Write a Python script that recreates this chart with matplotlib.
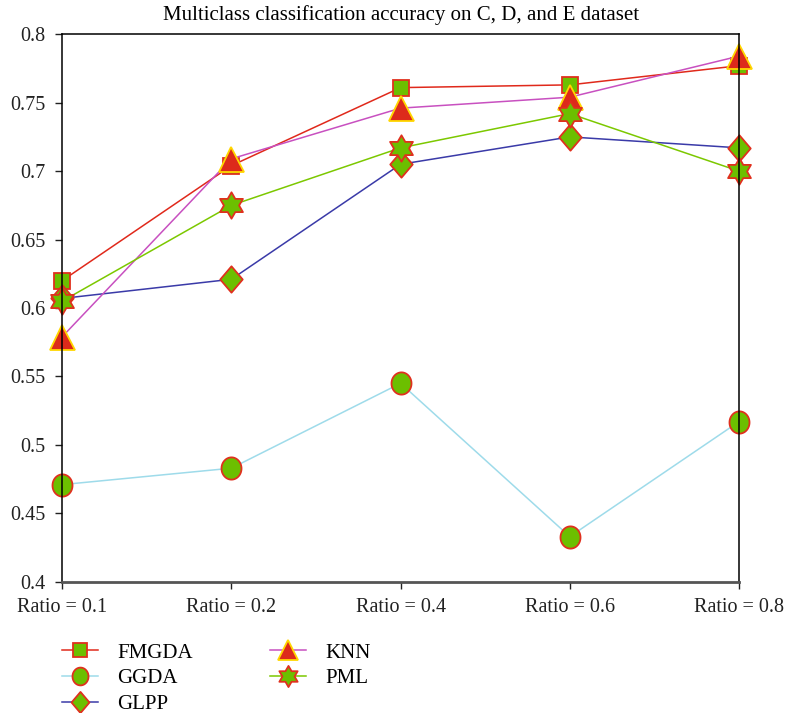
import matplotlib.pyplot as plt
import numpy as np
from matplotlib.path import Path

categories = ["Ratio = 0.1", "Ratio = 0.2", "Ratio = 0.4", "Ratio = 0.6", "Ratio = 0.8"]
fmgda = [0.620, 0.704, 0.761, 0.763, 0.777]
ggda = [0.471, 0.483, 0.545, 0.433, 0.517]
glpp = [0.607, 0.621, 0.705, 0.725, 0.717]
knn = [0.579, 0.709, 0.746, 0.754, 0.784]
pml = [0.605, 0.675, 0.717, 0.742, 0.700]

plt.rcParams['font.family'] = ['Liberation Serif', 'DejaVu Serif']

green = '#6cbf00'
red = '#e0301e'

# custom marker shapes
t = np.linspace(0, 2 * np.pi, 60)
ellipse = Path(np.column_stack([0.9 * np.cos(t), np.sin(t)]), closed=True)
diamond = Path([(0, 1), (0.85, 0), (0, -1), (-0.85, 0), (0, 1)], closed=True)
ang = np.deg2rad(90 + 30 * np.arange(13))
rad = np.where(np.arange(13) % 2 == 0, 1.0, 1 / np.sqrt(3))
hexagram = Path(np.column_stack([rad * np.cos(ang), rad * np.sin(ang)]), closed=True)

fig = plt.figure(figsize=(7.87, 7.13), dpi=100)
ax = fig.add_axes([0.079, 0.184, 0.86, 0.768])
x = list(range(len(categories)))

# name, values, line colour, marker, size, face, edge
series = [
    ("FMGDA", fmgda, '#e0291b', 's', 12, green, red),
    ("GGDA", ggda, '#9edbea', ellipse, 16, green, red),
    ("GLPP", glpp, '#3a3aa8', diamond, 19, green, red),
    ("KNN", knn, '#c850c0', '^', 18, '#dd2a1b', '#ffd700'),
    ("PML", pml, '#7cc800', hexagram, 19, green, red),
]
handles = []
for name, vals, lc, mk, ms, fc, ec in series:
    h, = ax.plot(x, vals, color=lc, lw=1.1, marker=mk, markersize=ms,
                 markerfacecolor=fc, markeredgecolor=ec, markeredgewidth=1.3,
                 clip_on=False, label=name)
    handles.append(h)

ax.set_xlim(0, 4)
ax.set_ylim(0.4, 0.8)
ax.set_xticks(x)
ax.set_xticklabels(categories, fontsize=14.5)
ax.set_yticks([0.4, 0.45, 0.5, 0.55, 0.6, 0.65, 0.7, 0.75, 0.8])
ax.set_yticklabels(["0.4", "0.45", "0.5", "0.55", "0.6", "0.65", "0.7", "0.75", "0.8"], fontsize=14.5)
ax.tick_params(direction='out', length=5, width=1, colors='#222222', pad=7)
for s in ['left', 'top', 'right']:
    ax.spines[s].set_linewidth(1.1)
ax.spines['bottom'].set_color('#555555')
ax.spines['bottom'].set_linewidth(2)
ax.set_title("Multiclass classification accuracy on C, D, and E dataset", fontsize=15, y=1.0, pad=10)

fig.legend(handles=handles, loc='upper left', bbox_to_anchor=(62 / 787, 1 - 643 / 713),
           ncol=2, frameon=False, fontsize=15, handlelength=1.75,
           handletextpad=0.9, columnspacing=3.7, labelspacing=0.3,
           borderpad=0, borderaxespad=0, markerscale=0.8)

plt.savefig("out.png", dpi=100)
plt.close()
